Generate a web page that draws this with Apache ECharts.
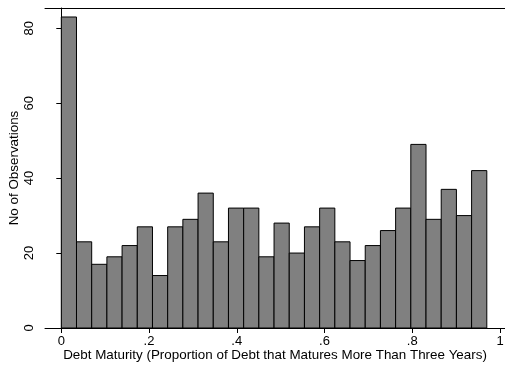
<!DOCTYPE html>
<html>
<head>
<meta charset="utf-8">
<script src="https://cdn.jsdelivr.net/npm/echarts@6/dist/echarts.min.js"></script>
<style>
  html, body { margin: 0; padding: 0; background: #fff; }
  #chart { width: 505px; height: 367px; }
</style>
</head>
<body>
<div id="chart"></div>
<script>
// Histogram bins: start of the first bin and common bin width
const binStart = 0;
const binWidth = 0.03464;
// Number of observations per bin
const counts = [83, 23, 17, 19, 22, 27, 14, 27, 29, 36, 23, 32, 32, 19,
                28, 20, 27, 32, 23, 18, 22, 26, 32, 49, 29, 37, 30, 42];
// Axis ticks
const xTickValues = [0, 0.2, 0.4, 0.6, 0.8, 1];
const xTickLabels = ['0', '.2', '.4', '.6', '.8', '1'];
const yTickValues = [0, 20, 40, 60, 80];

const FONT = 'Liberation Sans, Arial, sans-serif';
const X_MIN = -0.03716;
const X_MAX = 1.0114;

const binData = counts.map((c, i) => [binStart + i * binWidth, binStart + (i + 1) * binWidth, c]);

const chart = echarts.init(document.getElementById('chart'), null, { renderer: 'canvas' });

chart.setOption({
  backgroundColor: '#fff',
  animation: false,
  grid: { left: 45, top: 8, right: 0, bottom: 39, show: false, containLabel: false, outerBoundsMode: 'none' },
  xAxis: [{
    type: 'value',
    min: X_MIN,
    max: X_MAX,
    name: 'Debt Maturity (Proportion of Debt that Matures More Than Three Years)',
    nameLocation: 'middle',
    nameGap: 21,
    nameMoveOverlap: false,
    nameTextStyle: { fontFamily: FONT, fontSize: 13.4, color: '#000' },
    axisLine: { show: true, lineStyle: { color: '#000', width: 1 } },
    axisTick: { show: true, length: 5, customValues: xTickValues, lineStyle: { color: '#000' } },
    axisLabel: {
      customValues: xTickValues,
      formatter: v => {
        const k = xTickValues.findIndex(t => Math.abs(t - v) < 1e-9);
        return k >= 0 ? xTickLabels[k] : '';
      },
      fontFamily: FONT, fontSize: 13, color: '#000', margin: 7
    },
    splitLine: { show: false }
  }, {
    // top frame line of the plot region
    type: 'value',
    position: 'top',
    min: X_MIN,
    max: X_MAX,
    axisLine: { show: true, lineStyle: { color: '#000', width: 1 } },
    axisTick: { show: false },
    axisLabel: { show: false },
    splitLine: { show: false }
  }],
  yAxis: {
    type: 'value',
    min: 0,
    max: 85.4,
    name: 'No of Observations',
    nameLocation: 'middle',
    nameGap: 24,
    nameMoveOverlap: false,
    nameTextStyle: { fontFamily: FONT, fontSize: 13.4, color: '#000' },
    axisLine: { show: true, lineStyle: { color: '#000', width: 1 } },
    axisTick: { show: true, length: 5, customValues: yTickValues, lineStyle: { color: '#000' } },
    axisLabel: {
      customValues: yTickValues,
      rotate: 90,
      fontFamily: FONT, fontSize: 13, color: '#000', margin: 9
    },
    splitLine: { show: false }
  },
  series: [{
    type: 'custom',
    xAxisIndex: 0,
    data: binData,
    encode: { x: [0, 1], y: 2 },
    renderItem: (params, api) => {
      const topLeft = api.coord([api.value(0), api.value(2)]);
      const bottomRight = api.coord([api.value(1), 0]);
      return {
        type: 'rect',
        shape: {
          x: topLeft[0], y: topLeft[1],
          width: bottomRight[0] - topLeft[0],
          height: bottomRight[1] - topLeft[1]
        },
        style: { fill: '#808080', stroke: '#000', lineWidth: 1 }
      };
    }
  }]
});
</script>
</body>
</html>
